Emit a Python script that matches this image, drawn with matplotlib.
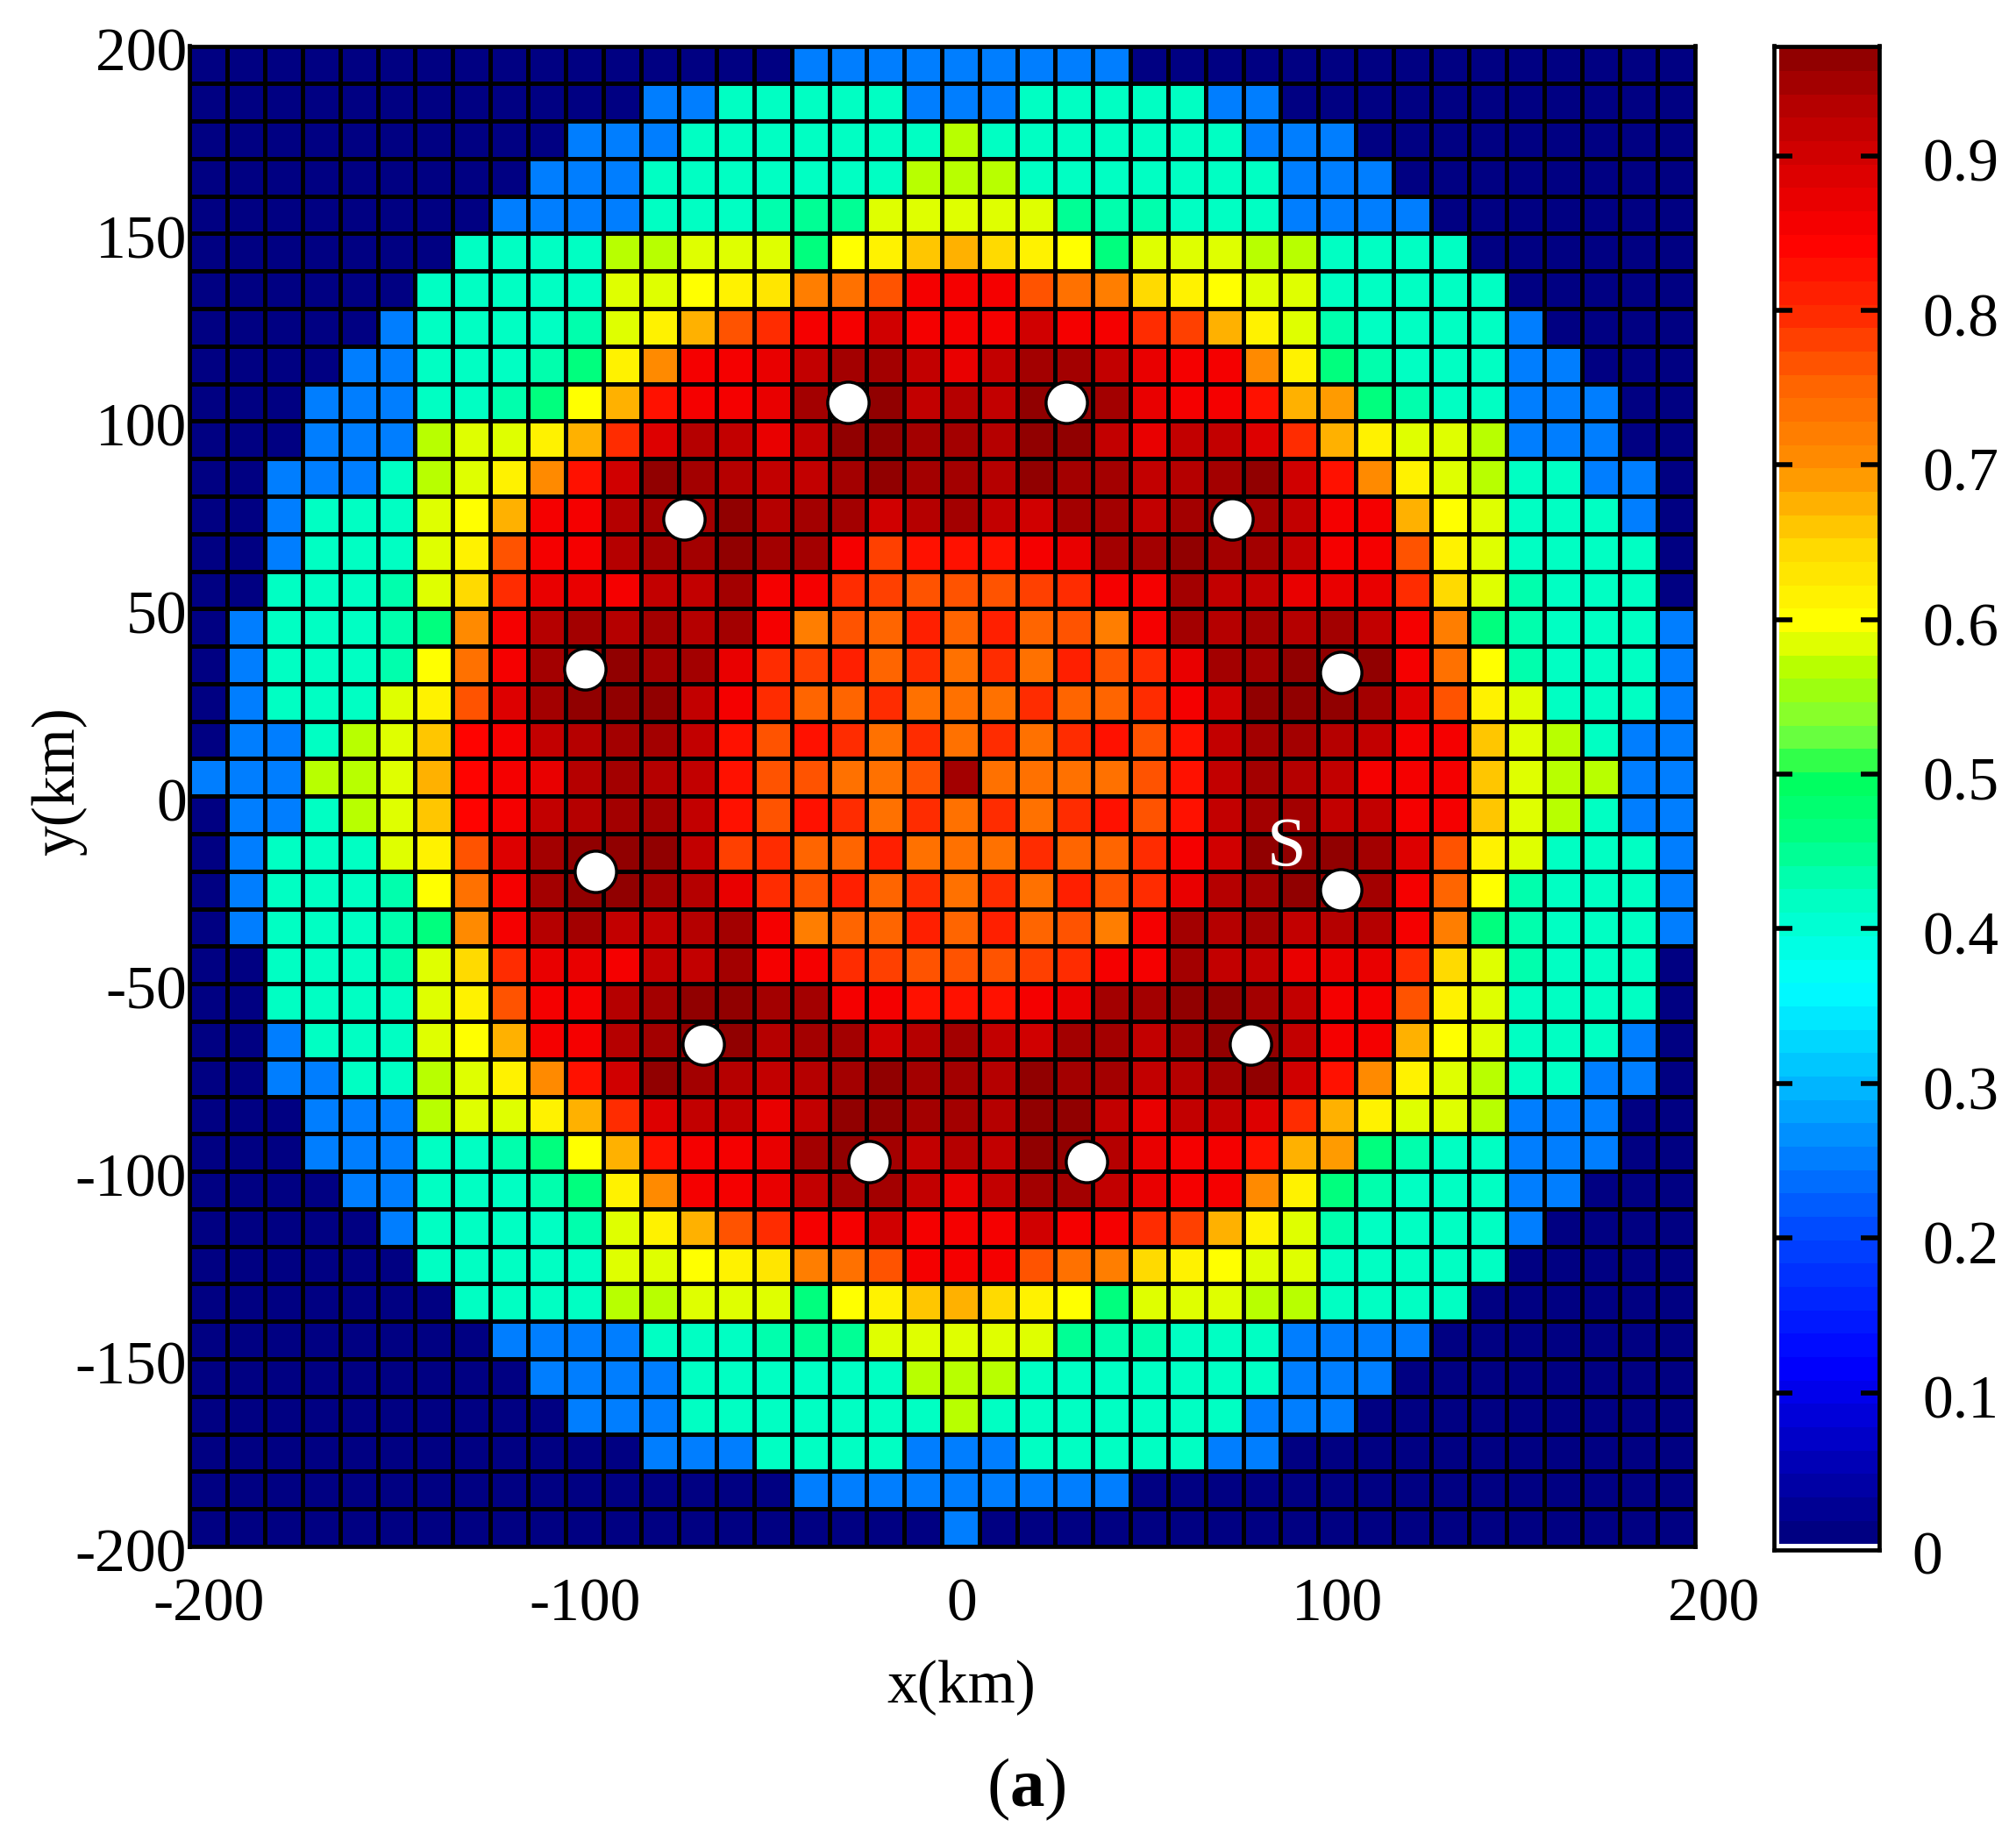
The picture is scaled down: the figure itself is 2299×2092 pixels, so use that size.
import numpy as np
import matplotlib
matplotlib.use("Agg")
import matplotlib.pyplot as plt
from matplotlib.colors import LinearSegmentedColormap, Normalize
from matplotlib.transforms import ScaledTranslation

# cell values in hundredths, row 0 is the top row (y 190..200 km)
ROWS = [
    [0,0,0,0,0,0,0,0,0,0,0,0,0,0,0,0,25,25,25,25, 25,25,25,25,25,0,0,0,0,0,0,0,0,0,0,0,0,0,0,0],
    [0,0,0,0,0,0,0,0,0,0,0,0,25,25,42,42,42,42,42,25, 25,25,42,42,42,42,42,25,25,0,0,0,0,0,0,0,0,0,0,0],
    [0,0,0,0,0,0,0,0,0,0,25,25,25,42,42,42,42,42,42,42, 57,42,42,42,42,42,42,42,25,25,25,0,0,0,0,0,0,0,0,0],
    [0,0,0,0,0,0,0,0,0,25,25,25,42,42,42,42,42,42,42,57, 57,57,42,42,42,42,42,42,42,25,25,25,0,0,0,0,0,0,0,0],
    [0,0,0,0,0,0,0,0,25,25,25,25,42,42,42,43,44,44,58,59, 59,59,58,44,43,43,42,42,42,25,25,25,25,0,0,0,0,0,0,0],
    [0,0,0,0,0,0,0,42,42,42,42,57,57,58,58,59,46,60,62,66, 67,65,62,60,46,59,58,58,57,57,42,42,42,42,0,0,0,0,0,0],
    [0,0,0,0,0,0,42,42,42,42,42,58,58,60,62,63,72,74,76,85, 85,85,76,74,72,64,62,60,58,58,42,42,42,42,42,0,0,0,0,0],
    [0,0,0,0,0,25,42,42,42,42,43,59,62,68,77,80,85,85,90,85, 85,85,90,85,85,80,78,68,62,59,43,42,42,42,42,25,0,0,0,0],
    [0,0,0,0,25,25,42,42,42,43,46,62,70,85,85,87,92,95,94,92, 87,92,94,95,92,87,85,85,70,62,46,43,42,42,42,25,25,0,0,0],
    [0,0,0,25,25,25,42,42,43,46,60,67,82,85,85,87,94,96,97,92, 93,92,97,96,94,87,85,85,82,67,69,46,43,42,42,25,25,25,0,0],
    [0,0,0,25,25,25,57,58,59,62,67,80,89,93,92,87,92,97,97,94, 94,93,97,97,92,87,92,92,89,80,67,62,59,58,57,25,25,25,0,0],
    [0,0,25,25,25,42,57,58,62,70,82,90,97,95,93,92,92,95,97,94, 94,93,97,95,94,92,93,95,97,90,82,70,62,58,57,42,42,25,25,0],
    [0,0,25,42,42,42,58,60,68,85,85,93,95,95,96,93,94,95,90,93, 94,92,90,94,94,92,95,96,95,92,85,85,68,60,58,42,42,42,25,0],
    [0,0,25,42,42,42,58,62,77,85,85,93,94,94,97,94,94,85,78,82, 82,82,85,87,95,94,97,95,94,92,85,85,77,62,58,42,42,42,42,0],
    [0,0,42,42,42,43,59,64,80,87,87,85,91,92,94,85,85,80,78,76, 77,77,78,80,85,85,94,92,91,87,87,87,80,64,59,43,42,42,42,0],
    [0,25,42,42,42,43,46,71,85,93,94,93,94,93,94,85,72,76,75,81, 75,81,75,77,72,85,94,93,94,93,95,92,85,72,46,43,42,42,42,25],
    [0,25,42,42,42,43,60,74,85,95,97,97,95,94,87,80,78,81,75,80, 74,80,74,81,77,80,87,94,95,97,96,96,85,74,60,43,42,42,42,25],
    [0,25,42,42,42,58,62,76,89,94,96,97,97,92,85,79,75,75,80,73, 73,74,80,75,75,79,85,90,97,97,96,95,89,76,62,58,42,42,42,25],
    [0,25,25,42,57,59,66,84,85,92,93,94,94,92,82,77,82,79,74,80, 74,80,74,80,82,77,82,92,94,94,93,92,85,85,66,59,57,42,25,25],
    [25,25,25,57,57,59,67,84,85,87,93,94,93,92,82,76,76,74,73,76, 94,74,74,74,74,77,82,92,94,93,92,85,85,85,66,59,57,57,25,25],
    [0,25,25,42,57,59,66,84,85,92,93,94,94,92,82,77,82,80,74,80, 74,80,74,80,82,77,82,92,94,94,92,92,85,85,66,59,57,42,25,25],
    [0,25,42,42,42,58,62,76,89,94,96,97,97,92,78,79,75,75,81,73, 73,73,80,75,75,79,85,90,97,97,96,95,89,76,62,58,42,42,42,25],
    [0,25,42,42,42,43,60,74,85,95,96,97,95,93,87,80,77,81,75,80, 73,80,74,81,77,80,87,93,95,97,97,95,85,75,60,43,42,42,42,25],
    [0,25,42,42,42,43,46,71,85,93,94,92,92,93,94,85,72,75,75,81, 75,81,75,77,72,85,94,93,94,92,93,93,85,72,46,43,42,42,42,25],
    [0,0,42,42,42,43,59,64,80,87,87,85,91,92,94,85,85,80,78,76, 77,77,78,80,85,85,94,92,91,87,87,87,80,64,59,43,42,42,42,0],
    [0,0,42,42,42,42,58,62,77,85,85,93,94,96,97,94,94,85,85,82, 82,82,85,87,94,94,97,96,94,92,85,85,77,62,58,42,42,42,42,0],
    [0,0,25,42,42,42,58,60,68,85,85,93,95,96,96,93,94,94,90,93, 94,92,90,94,94,92,95,97,96,92,85,85,68,60,58,42,42,42,25,0],
    [0,0,25,25,42,42,57,58,62,70,82,90,97,95,93,92,93,95,97,94, 94,93,97,95,94,92,93,95,97,90,82,70,62,58,57,42,42,25,25,0],
    [0,0,0,25,25,25,57,58,59,62,67,80,89,92,92,87,92,97,97,94, 94,93,97,97,92,87,92,92,89,80,67,62,59,58,57,25,25,25,0,0],
    [0,0,0,25,25,25,42,42,43,46,60,67,82,85,85,87,94,96,95,92, 93,92,97,96,93,87,85,85,82,67,69,46,43,42,42,25,25,25,0,0],
    [0,0,0,0,25,25,42,42,42,43,46,62,70,85,85,87,92,95,94,92, 87,92,94,95,92,87,85,85,70,62,46,43,42,42,42,25,25,0,0,0],
    [0,0,0,0,0,25,42,42,42,42,43,59,62,68,77,80,85,85,90,85, 85,85,90,85,85,80,78,68,62,59,43,42,42,42,42,25,0,0,0,0],
    [0,0,0,0,0,0,42,42,42,42,42,58,58,60,62,63,72,74,76,85, 85,85,76,74,72,64,62,60,58,58,42,42,42,42,42,0,0,0,0,0],
    [0,0,0,0,0,0,0,42,42,42,42,57,57,58,58,59,46,60,62,66, 67,65,62,60,46,59,58,58,57,57,42,42,42,42,0,0,0,0,0,0],
    [0,0,0,0,0,0,0,0,25,25,25,25,42,42,42,43,44,44,58,59, 59,59,58,44,43,43,42,42,42,25,25,25,25,0,0,0,0,0,0,0],
    [0,0,0,0,0,0,0,0,0,25,25,25,25,42,42,42,42,42,42,57, 57,57,42,42,42,42,42,42,42,25,25,25,0,0,0,0,0,0,0,0],
    [0,0,0,0,0,0,0,0,0,0,25,25,25,42,42,42,42,42,42,42, 57,42,42,42,42,42,42,42,25,25,25,0,0,0,0,0,0,0,0,0],
    [0,0,0,0,0,0,0,0,0,0,0,0,25,25,25,42,42,42,42,25, 25,25,42,42,42,42,42,25,25,0,0,0,0,0,0,0,0,0,0,0],
    [0,0,0,0,0,0,0,0,0,0,0,0,0,0,0,0,25,25,25,25, 25,25,25,25,25,0,0,0,0,0,0,0,0,0,0,0,0,0,0,0],
    [0,0,0,0,0,0,0,0,0,0,0,0,0,0,0,0,0,0,0,0, 25,0,0,0,0,0,0,0,0,0,0,0,0,0,0,0,0,0,0,0],
]
MARKER_X = [-25, 33, -68.5, 77, -95, 106, -92, 106, -63.5, 82, -19.5, 38.5]
MARKER_Y = [105, 105, 74, 74, 34, 33, -20, -25, -66, -66, -97.5, -97.5]
AXIS_TICKS = [-200, -100, 0, 100, 200]
Y_TICKS = [-200, -150, -100, -50, 0, 50, 100, 150, 200]
CB_TICKS = [0, 0.1, 0.2, 0.3, 0.4, 0.5, 0.6, 0.7, 0.8, 0.9]
CB_LABELS = ["0", "0.1", "0.2", "0.3", "0.4", "0.5", "0.6", "0.7", "0.8", "0.9"]
VMAX = 0.97

# colourbar: value, rgb
STOPS = [
    (0.00, (0, 0, 130)), (0.11, (0, 0, 255)), (0.20, (0, 75, 255)), (0.25, (0, 130, 255)),
    (0.30, (0, 190, 255)), (0.36, (0, 255, 255)), (0.42, (0, 255, 190)), (0.46, (0, 255, 128)),
    (0.50, (0, 255, 90)), (0.51, (60, 255, 70)), (0.53, (125, 255, 60)), (0.55, (150, 255, 20)),
    (0.57, (185, 255, 0)), (0.58, (212, 255, 0)), (0.60, (255, 255, 0)), (0.65, (255, 215, 0)),
    (0.70, (255, 145, 0)), (0.76, (255, 96, 0)), (0.80, (255, 45, 0)), (0.85, (255, 0, 0)),
    (0.90, (215, 0, 0)), (0.94, (180, 0, 0)), (0.97, (145, 0, 0)),
]
cmap = LinearSegmentedColormap.from_list(
    "figure_jet", [(v / VMAX, tuple(c / 255 for c in rgb)) for v, rgb in STOPS], N=64)
norm = Normalize(0, VMAX)

plt.rcParams.update({
    "font.family": "Liberation Serif", "font.size": 50, "axes.unicode_minus": False,
    "mathtext.fontset": "custom", "mathtext.rm": "Liberation Serif",
    "mathtext.bf": "Liberation Serif:bold",
})
W, H = 2299, 2092
fig = plt.figure(figsize=(W / 100, H / 100), dpi=100, facecolor="white")


def px_axes(left, top, right, bottom):
    return fig.add_axes([left / W, 1 - bottom / H, (right - left) / W, (bottom - top) / H])


def shift(label, dx, dy):
    # tick labels sit off the tick marks in the original
    label.set_transform(label.get_transform() + ScaledTranslation(dx / 100, -dy / 100, fig.dpi_scale_trans))


# ---- main grid ----
ax = px_axes(216, 52.5, 1932.5, 1764)
Z = np.array(ROWS) / 100
x_edges = np.arange(-200, 201, 10)
y_edges = np.arange(200, -201, -10)
ax.pcolormesh(x_edges, y_edges, Z, cmap=cmap, norm=norm, edgecolors="black", linewidth=3.6)
ax.plot(MARKER_X, MARKER_Y, ls="none", marker="o", ms=34, mfc="white", mec="black", mew=2.5, zorder=5)
ax.text(91.5, -14, "S", color="white", fontsize=58, ha="center", va="center", zorder=6)
ax.set_xlim(-200, 200)
ax.set_ylim(-200, 200)
ax.set_xticks(AXIS_TICKS)
ax.set_yticks(Y_TICKS)
ax.tick_params(length=0, labelsize=50)
ax.tick_params(axis="x", pad=26)
ax.tick_params(axis="y", pad=2)
for lab in ax.get_xticklabels():
    shift(lab, 22, 0)
for lab in ax.get_yticklabels():
    shift(lab, 0, 4)
for sp in ax.spines.values():
    sp.set_linewidth(3.4)
ax.set_xlabel("x(km)", fontsize=50)
ax.xaxis.set_label_coords(0.513, -0.0755)
ax.set_ylabel("y(km)", fontsize=50)
ax.yaxis.set_label_coords(-0.068, 0.51)

# ---- colourbar ----
cax = px_axes(2023, 52.5, 2142.5, 1767.5)
levels = np.linspace(0.002, VMAX, 65)
mid = (np.linspace(0, VMAX, 65)[:-1] + np.linspace(0, VMAX, 65)[1:]) / 2
cax.pcolormesh([0, 1], levels, mid[:, None], cmap=cmap, norm=norm, linewidth=0)
cax.set_xlim(-0.05, 1)
cax.set_ylim(-0.0015, VMAX + 0.001)
cax.set_xticks([])
cax.set_yticks(CB_TICKS[1:])
cax.set_yticklabels(CB_LABELS[1:])
cax.yaxis.tick_right()
cax.tick_params(axis="y", left=True, right=True, direction="in", length=15, width=4, labelsize=50, pad=36)
for lab in cax.get_yticklabels():
    shift(lab, 0, 5)
for sp in cax.spines.values():
    sp.set_linewidth(3.4)
fig.text(2180 / W, 1 - 1779 / H, CB_LABELS[0], fontsize=50, ha="left", va="center")

fig.text(1170 / W, 1 - 2041 / H, r"($\mathbf{a}$)", fontsize=57, ha="center", va="center")

fig.savefig("out.png", dpi=100, facecolor="white")
